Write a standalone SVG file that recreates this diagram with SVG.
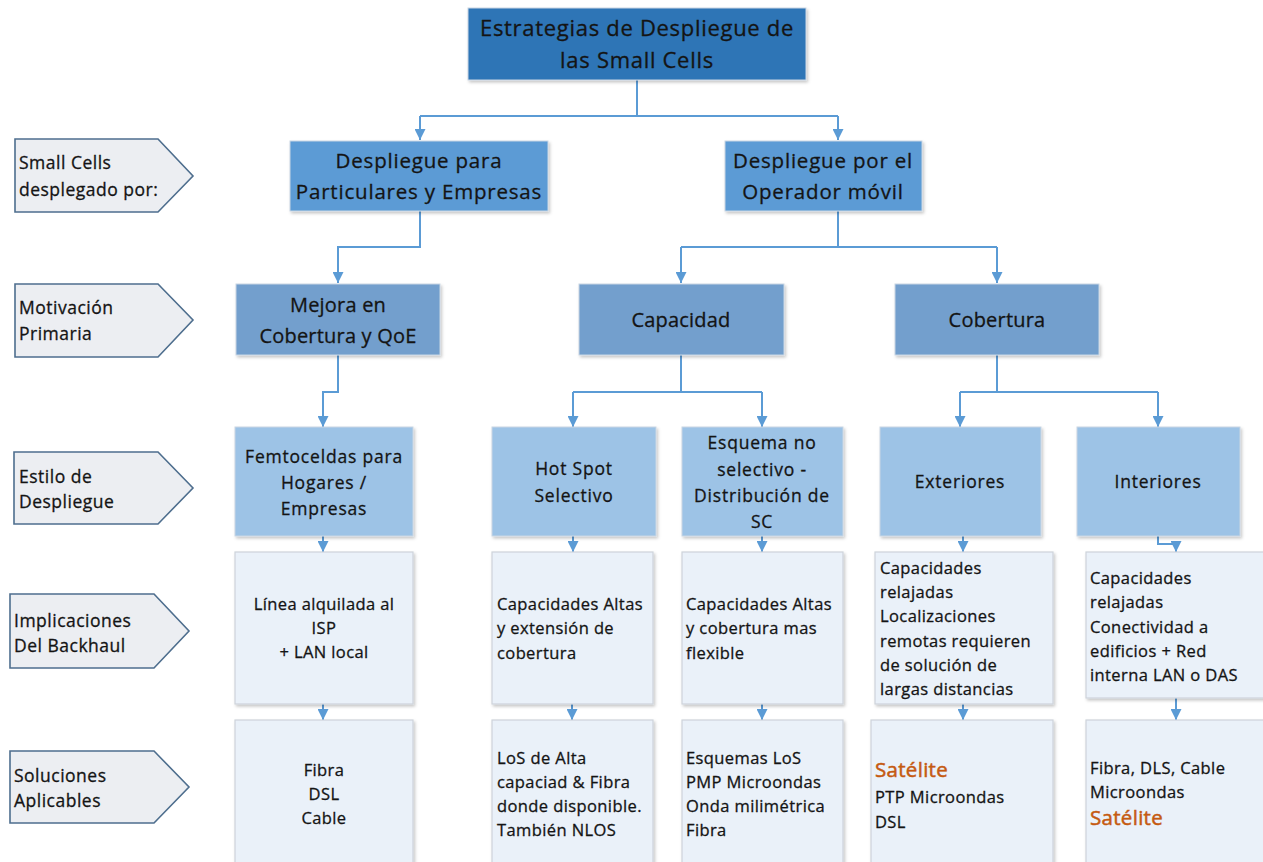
<svg xmlns="http://www.w3.org/2000/svg" width="1263" height="862" viewBox="0 0 1263 862">
  <defs>
    <filter id="shadow" x="-5%" y="-5%" width="115%" height="120%">
      <feDropShadow dx="1.5" dy="2" stdDeviation="1.5" flood-color="#000" flood-opacity="0.22"/>
    </filter>
    <marker id="arrow" viewBox="0 0 10 10" refX="10" refY="5" markerWidth="5.5" markerHeight="5.5" orient="auto" markerUnits="strokeWidth">
      <path d="M0,0 L10,5 L0,10 Z" fill="#5B9BD5"/>
    </marker>
  </defs>
  <style>
    text { font-family: "Open Sans", "Liberation Sans", sans-serif; fill: #141414; stroke: #141414; stroke-width: 0.3; }
    .c { text-anchor: middle; }
    .t0 { font-size: 22px; letter-spacing: 0.7px; }
    .t1 { font-size: 20.5px; letter-spacing: 0.8px; }
    .t1b { font-size: 20px; letter-spacing: 0.2px; }
    .t2 { font-size: 17.5px; letter-spacing: 0.8px; }
    .t3 { font-size: 16.5px; letter-spacing: 0.4px; }
    .lab { font-size: 17.5px; letter-spacing: 0.5px; }
    .sat { fill: #C55A11; stroke: #C55A11; stroke-width: 0.5; font-size: 20.5px; letter-spacing: 0.3px; }
    .b0 { fill: #2E75B6; stroke: #C9D6E3; stroke-width: 1; filter: url(#shadow); }
    .b1 { fill: #5B9BD5; stroke: #C9D6E3; stroke-width: 1; filter: url(#shadow); }
    .b2 { fill: #739FCD; stroke: #C9D6E3; stroke-width: 1; filter: url(#shadow); }
    .b3 { fill: #9DC3E6; stroke: #C9D6E3; stroke-width: 1; filter: url(#shadow); }
    .b4 { fill: #EAF1F9; stroke: #CDD3DA; stroke-width: 1.2; filter: url(#shadow); }
    .tag { fill: #ECEEF2; stroke: #4E6E8E; stroke-width: 1.6; }
    .con { fill: none; stroke: #5B9BD5; stroke-width: 2; marker-end: url(#arrow); }
    .lin { fill: none; stroke: #5B9BD5; stroke-width: 2; }
  </style>

  <!-- row labels -->
  <g id="label-desplegado">
    <path class="tag" d="M15,139 H158 L193,176 L158,212 H15 Z"/>
    <text class="lab" x="19" y="169">Small Cells</text>
    <text class="lab" x="19" y="196">desplegado por:</text>
  </g>
  <g id="label-motivacion">
    <path class="tag" d="M15,284 H158 L193,320 L158,357 H15 Z"/>
    <text class="lab" x="19" y="314">Motivación</text>
    <text class="lab" x="19" y="340">Primaria</text>
  </g>
  <g id="label-estilo">
    <path class="tag" d="M14,452 H158 L193,488 L158,524 H14 Z"/>
    <text class="lab" x="19" y="483">Estilo de</text>
    <text class="lab" x="19" y="508">Despliegue</text>
  </g>
  <g id="label-backhaul">
    <path class="tag" d="M10,594 H154 L189,631 L154,668 H10 Z"/>
    <text class="lab" x="14" y="627">Implicaciones</text>
    <text class="lab" x="14" y="652">Del Backhaul</text>
  </g>
  <g id="label-soluciones">
    <path class="tag" d="M10,751 H154 L189,787 L154,823 H10 Z"/>
    <text class="lab" x="14" y="782">Soluciones</text>
    <text class="lab" x="14" y="807">Aplicables</text>
  </g>

  <!-- connectors -->
  <g id="connectors">
    <path class="lin" d="M637,80 V116 M420,116 H838"/>
    <path class="con" d="M420,116 V140"/>
    <path class="con" d="M838,116 V140"/>

    <path class="con" d="M420,211 V247 H338 V283"/>
    <path class="lin" d="M838,211 V247 M681,247 H997"/>
    <path class="con" d="M681,247 V283"/>
    <path class="con" d="M997,247 V283"/>

    <path class="con" d="M338,355 V392 H323 V427"/>
    <path class="lin" d="M681,355 V392 M573,392 H762"/>
    <path class="con" d="M573,392 V427"/>
    <path class="con" d="M762,392 V427"/>
    <path class="lin" d="M997,355 V392 M960,392 H1158"/>
    <path class="con" d="M960,392 V427"/>
    <path class="con" d="M1158,392 V427"/>

    <path class="con" d="M323,536 V552"/>
    <path class="con" d="M573,536 V552"/>
    <path class="con" d="M762,536 V552"/>
    <path class="con" d="M963,536 V552"/>
    <path class="con" d="M1158,536 V544 H1176 V552"/>

    <path class="con" d="M323,704 V720"/>
    <path class="con" d="M572,704 V720"/>
    <path class="con" d="M762,704 V720"/>
    <path class="con" d="M963,704 V720"/>
    <path class="con" d="M1176,698 V720"/>
  </g>

  <!-- root -->
  <g id="n-root">
    <rect class="b0" x="468" y="8" width="338" height="72"/>
    <text class="t0 c" x="637" y="36">Estrategias de Despliegue de</text>
    <text class="t0 c" x="637" y="68">las Small Cells</text>
  </g>

  <!-- deployment owner -->
  <g id="n-particulares">
    <rect class="b1" x="290" y="141" width="258" height="70"/>
    <text class="t1 c" x="419" y="168">Despliegue para</text>
    <text class="t1 c" x="419" y="199">Particulares y Empresas</text>
  </g>
  <g id="n-operador">
    <rect class="b1" x="725" y="141" width="197" height="70"/>
    <text class="t1 c" x="823" y="168">Despliegue por el</text>
    <text class="t1 c" x="823" y="199">Operador móvil</text>
  </g>

  <!-- primary motivation -->
  <g id="n-mejora">
    <rect class="b2" x="236" y="284" width="204" height="71"/>
    <text class="t1b c" x="338" y="312">Mejora en</text>
    <text class="t1b c" x="338" y="343">Cobertura y QoE</text>
  </g>
  <g id="n-capacidad">
    <rect class="b2" x="579" y="284" width="205" height="71"/>
    <text class="t1b c" x="681" y="327">Capacidad</text>
  </g>
  <g id="n-cobertura">
    <rect class="b2" x="895" y="284" width="204" height="71"/>
    <text class="t1b c" x="997" y="327">Cobertura</text>
  </g>

  <!-- deployment style -->
  <g id="n-femto">
    <rect class="b3" x="235" y="427" width="178" height="109"/>
    <text class="t2 c" x="324" y="463">Femtoceldas para</text>
    <text class="t2 c" x="324" y="489">Hogares /</text>
    <text class="t2 c" x="324" y="515">Empresas</text>
  </g>
  <g id="n-hotspot">
    <rect class="b3" x="492" y="427" width="164" height="109"/>
    <text class="t2 c" x="574" y="475">Hot Spot</text>
    <text class="t2 c" x="574" y="502">Selectivo</text>
  </g>
  <g id="n-esquema">
    <rect class="b3" x="682" y="427" width="161" height="109"/>
    <text class="t2 c" x="762" y="449">Esquema no</text>
    <text class="t2 c" x="762" y="476">selectivo -</text>
    <text class="t2 c" x="762" y="502">Distribución de</text>
    <text class="t2 c" x="762" y="528">SC</text>
  </g>
  <g id="n-exteriores">
    <rect class="b3" x="880" y="427" width="161" height="109"/>
    <text class="t2 c" x="960" y="488">Exteriores</text>
  </g>
  <g id="n-interiores">
    <rect class="b3" x="1077" y="427" width="163" height="109"/>
    <text class="t2 c" x="1158" y="488">Interiores</text>
  </g>

  <!-- backhaul implications -->
  <g id="n-bh-femto">
    <rect class="b4" x="235" y="552" width="178" height="152"/>
    <text class="t3 c" x="324" y="610">Línea alquilada al</text>
    <text class="t3 c" x="324" y="634">ISP</text>
    <text class="t3 c" x="324" y="658">+ LAN local</text>
  </g>
  <g id="n-bh-hotspot">
    <rect class="b4" x="492" y="552" width="161" height="152"/>
    <text class="t3" x="497" y="610">Capacidades Altas</text>
    <text class="t3" x="497" y="634">y extensión de</text>
    <text class="t3" x="497" y="659">cobertura</text>
  </g>
  <g id="n-bh-esquema">
    <rect class="b4" x="682" y="552" width="161" height="152"/>
    <text class="t3" x="686" y="610">Capacidades Altas</text>
    <text class="t3" x="686" y="634">y cobertura mas</text>
    <text class="t3" x="686" y="659">flexible</text>
  </g>
  <g id="n-bh-exteriores">
    <rect class="b4" x="875" y="552" width="178" height="152"/>
    <text class="t3" x="880" y="574">Capacidades</text>
    <text class="t3" x="880" y="598">relajadas</text>
    <text class="t3" x="880" y="622">Localizaciones</text>
    <text class="t3" x="880" y="647">remotas requieren</text>
    <text class="t3" x="880" y="671">de solución de</text>
    <text class="t3" x="880" y="695">largas distancias</text>
  </g>
  <g id="n-bh-interiores">
    <rect class="b4" x="1086" y="552" width="190" height="146"/>
    <text class="t3" x="1090" y="584">Capacidades</text>
    <text class="t3" x="1090" y="608">relajadas</text>
    <text class="t3" x="1090" y="633">Conectividad a</text>
    <text class="t3" x="1090" y="657">edificios + Red</text>
    <text class="t3" x="1090" y="681">interna LAN o DAS</text>
  </g>

  <!-- applicable solutions -->
  <g id="n-sol-femto">
    <rect class="b4" x="235" y="720" width="178" height="150"/>
    <text class="t3 c" x="324" y="776">Fibra</text>
    <text class="t3 c" x="324" y="800">DSL</text>
    <text class="t3 c" x="324" y="824">Cable</text>
  </g>
  <g id="n-sol-hotspot">
    <rect class="b4" x="492" y="720" width="161" height="150"/>
    <text class="t3" x="497" y="764">LoS de Alta</text>
    <text class="t3" x="497" y="788">capaciad &amp; Fibra</text>
    <text class="t3" x="497" y="812">donde disponible.</text>
    <text class="t3" x="497" y="836">También NLOS</text>
  </g>
  <g id="n-sol-esquema">
    <rect class="b4" x="682" y="720" width="161" height="150"/>
    <text class="t3" x="686" y="764">Esquemas LoS</text>
    <text class="t3" x="686" y="788">PMP Microondas</text>
    <text class="t3" x="686" y="812">Onda milimétrica</text>
    <text class="t3" x="686" y="836">Fibra</text>
  </g>
  <g id="n-sol-exteriores">
    <rect class="b4" x="871" y="720" width="182" height="150"/>
    <text class="sat" x="875" y="777">Satélite</text>
    <text class="t3" x="875" y="803">PTP Microondas</text>
    <text class="t3" x="875" y="828">DSL</text>
  </g>
  <g id="n-sol-interiores">
    <rect class="b4" x="1086" y="720" width="190" height="150"/>
    <text class="t3" x="1090" y="774">Fibra, DLS, Cable</text>
    <text class="t3" x="1090" y="798">Microondas</text>
    <text class="sat" x="1090" y="825">Satélite</text>
  </g>
</svg>
